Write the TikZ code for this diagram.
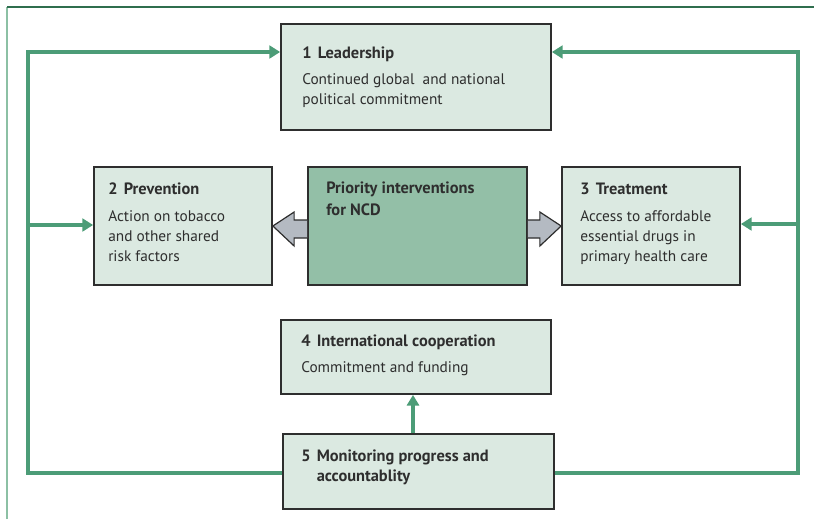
\documentclass[tikz,border=0pt]{standalone}
\usepackage{fontspec}
\setmainfont{PT Sans}
\usetikzlibrary{fit,arrows.meta,calc}
\definecolor{boxfill}{HTML}{DBE9E1}
\definecolor{centerfill}{HTML}{93BFA7}
\definecolor{loopgreen}{HTML}{4C9C77}
\definecolor{grayarrow}{HTML}{B4BAC2}
\definecolor{frametop}{HTML}{2F6E4E}
\definecolor{frameleft}{HTML}{8CC0A4}
\definecolor{txt}{HTML}{2E2E2E}
\newlength{\pxu}
\setlength{\pxu}{0.75pt}
\newcommand{\hdnum}[1]{\makebox[15.5\pxu][l]{#1}}
\tikzset{
  box/.style={draw=txt, line width=1.3pt, fill=boxfill, inner sep=0pt},
  centerbox/.style={box, fill=centerfill},
  ttl/.style={anchor=base west, inner sep=0pt, font=\fontsize{12.3}{15.5}\selectfont\bfseries, text=txt, align=left},
  bdy/.style={anchor=base west, inner sep=0pt, font=\fontsize{11.5}{15}\selectfont, text=txt, align=left},
  loop/.style={draw=loopgreen, line width=3pt},
  loopar/.style={loop, -{Triangle[length=8pt,width=9.5pt]}},
  uparrow/.style={draw=loopgreen, line width=2.8pt, -{Triangle[length=8pt,width=9pt]}},
  blockar/.style={draw=txt, line width=0.9pt, fill=grayarrow, line join=miter},
}
\begin{document}
\begin{tikzpicture}[x=0.75pt,y=-0.75pt]
\useasboundingbox (0,0) rectangle (814,519);
% frame
\coordinate (fa) at (7,519);
\coordinate (fb) at (7,7);
\coordinate (fc) at (814,7);
\draw[frameleft, line width=1.2pt] (fa) -- (fb);
\draw[frametop, line width=1.2pt] (fb) -- (fc);
% boxes
\node[box, fit={(281,24)(551,130)}] (b1) {};
\node[box, fit={(94,167)(272,285)}] (b2) {};
\node[centerbox, fit={(308,167)(527,285)}] (bc) {};
\node[box, fit={(562,167)(740,285)}] (b3) {};
\node[box, fit={(281,320)(551,394)}] (b4) {};
\node[box, fit={(283,434)(554,509)}] (b5) {};
% texts (base anchor of a multi-line text lies on its last line)
\node[ttl] (t1) at (302,58) {\hdnum{1}Leadership};
\node[bdy] (d1) at (302,104) {Continued global\ \ and national\\political commitment};
\node[ttl] (t2) at (108,194) {\hdnum{2}Prevention};
\node[bdy] (d2) at (108,261) {Action on tobacco\\and other shared\\risk factors};
\node[ttl, font=\fontsize{12.3}{16}\selectfont\bfseries] (tc) at (326,215) {Priority interventions\\for NCD};
\node[ttl] (t3) at (580,194) {\hdnum{3}Treatment};
\node[bdy] (d3) at (580,261) {Access to affordable\\essential drugs in\\primary health care};
\node[ttl] (t4) at (301,346) {\hdnum{4}International cooperation};
\node[bdy] (d4) at (301,372) {Commitment and funding};
\node[ttl, font=\fontsize{12.3}{14.5}\selectfont\bfseries] (t5) at (301,481) {\hdnum{5}Monitoring progress and\\\hspace*{15.5\pxu}accountablity};
% loop coordinates
\coordinate (lt) at (28,52);
\coordinate (lb) at (28,473);
\coordinate (rt) at (798,52);
\coordinate (rb) at (798,473);
\coordinate (l2) at (28,225);
\coordinate (r3) at (798,224);
% loop lines
\draw[loop] (b5.west |- lb) -- (lb) -- (lt) -- ++(2,0);
\draw[loopar] (lt) -- (b1.west |- lt);
\draw[loop] (b5.east |- rb) -- (rb) -- (rt) -- ++(-2,0);
\draw[loopar] (rt) -- (b1.east |- rt);
\draw[loopar] (l2) -- (b2.west |- l2);
\draw[loopar] (r3) -- (b3.east |- r3);
\draw[uparrow] (b5.north -| 413,0) -- (b4.south -| 413,0);
% block arrows
\draw[blockar] ($(bc.west)+(0,-6)$) -- ++(-13,0) -- ++(0,-8) -- ($(b2.east)+(0,0)$) -- ($(bc.west)+(-13,20)$) -- ++(0,-8) -- ++(13,0);
\draw[blockar] ($(bc.east)+(0,-6)$) -- ++(12,0) -- ++(0,-8) -- ($(b3.west)+(0,0)$) -- ($(bc.east)+(12,20)$) -- ++(0,-8) -- ++(-12,0);
\end{tikzpicture}
\end{document}
